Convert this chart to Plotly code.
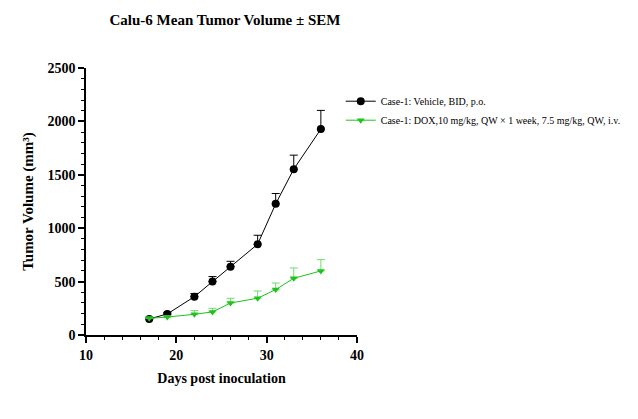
import plotly.graph_objects as go

days = [17, 19, 22, 24, 26, 29, 31, 33, 36]
vehicle_mean = [150, 197, 359, 500, 640, 850, 1228, 1553, 1928]
vehicle_sem = [10, 15, 30, 47, 50, 84, 97, 131, 175]
dox_mean = [156, 168, 194, 216, 300, 344, 425, 531, 600]
dox_sem = [12, 12, 34, 34, 44, 68, 62, 97, 106]

FONT = "Liberation Serif"
GREEN = "#1ec31e"
GREEN_ERR = "#6fdc6f"

fig = go.Figure()
fig.add_trace(go.Scatter(
    x=days, y=vehicle_mean, mode="lines+markers",
    name="Case-1: Vehicle, BID, p.o.",
    line=dict(color="black", width=1),
    marker=dict(symbol="circle", size=8, color="black"),
    error_y=dict(type="data", array=vehicle_sem, arrayminus=[0]*len(days), symmetric=False,
                 color="black", thickness=1, width=4),
))
fig.add_trace(go.Scatter(
    x=days, y=dox_mean, mode="lines+markers",
    name="Case-1: DOX,10 mg/kg, QW × 1 week, 7.5 mg/kg, QW, i.v.",
    line=dict(color=GREEN, width=1),
    marker=dict(symbol="triangle-down", size=7, color=GREEN),
    error_y=dict(type="data", array=dox_sem, arrayminus=[0]*len(days), symmetric=False,
                 color=GREEN_ERR, thickness=1, width=4),
))

fig.update_layout(
    width=638, height=419,
    margin=dict(l=86, r=277, t=68, b=84),
    paper_bgcolor="white", plot_bgcolor="white",
    font=dict(family=FONT, color="black"),
    title=dict(text="<b>Calu-6 Mean Tumor Volume ± SEM</b>", x=225/638, xanchor="center",
               y=1 - 20/419, yanchor="middle", font=dict(size=15, family=FONT, color="black")),
    showlegend=True,
    legend=dict(x=0.94, xanchor="left", y=0.93, yanchor="top",
                font=dict(size=10, family=FONT, color="black"),
                itemwidth=30, bgcolor="rgba(0,0,0,0)", tracegroupgap=4),
)
fig.update_xaxes(
    range=[10, 40], tickvals=[10, 20, 30, 40], showgrid=False, zeroline=False,
    showline=True, linecolor="black", linewidth=1.5,
    ticks="outside", ticklen=6, tickwidth=1.5, tickcolor="black",
    minor=dict(dtick=2, ticks="outside", ticklen=3, tickwidth=1, tickcolor="black", showgrid=False),
    tickfont=dict(size=14, family=FONT, color="black", weight="bold"),
    title=dict(text="<b>Days post inoculation</b>", font=dict(size=14, family=FONT, color="black"), standoff=12),
)
fig.update_yaxes(
    range=[0, 2500], tickvals=[0, 500, 1000, 1500, 2000, 2500], showgrid=False, zeroline=False,
    showline=True, linecolor="black", linewidth=1.5,
    ticks="outside", ticklen=6, tickwidth=1.5, tickcolor="black",
    minor=dict(dtick=100, ticks="outside", ticklen=3, tickwidth=1, tickcolor="black", showgrid=False),
    tickfont=dict(size=14, family=FONT, color="black", weight="bold"),
    title=dict(text="<b>Tumor Volume (mm³)</b>", font=dict(size=15, family=FONT, color="black"), standoff=10),
)

fig.write_html("out.html")
